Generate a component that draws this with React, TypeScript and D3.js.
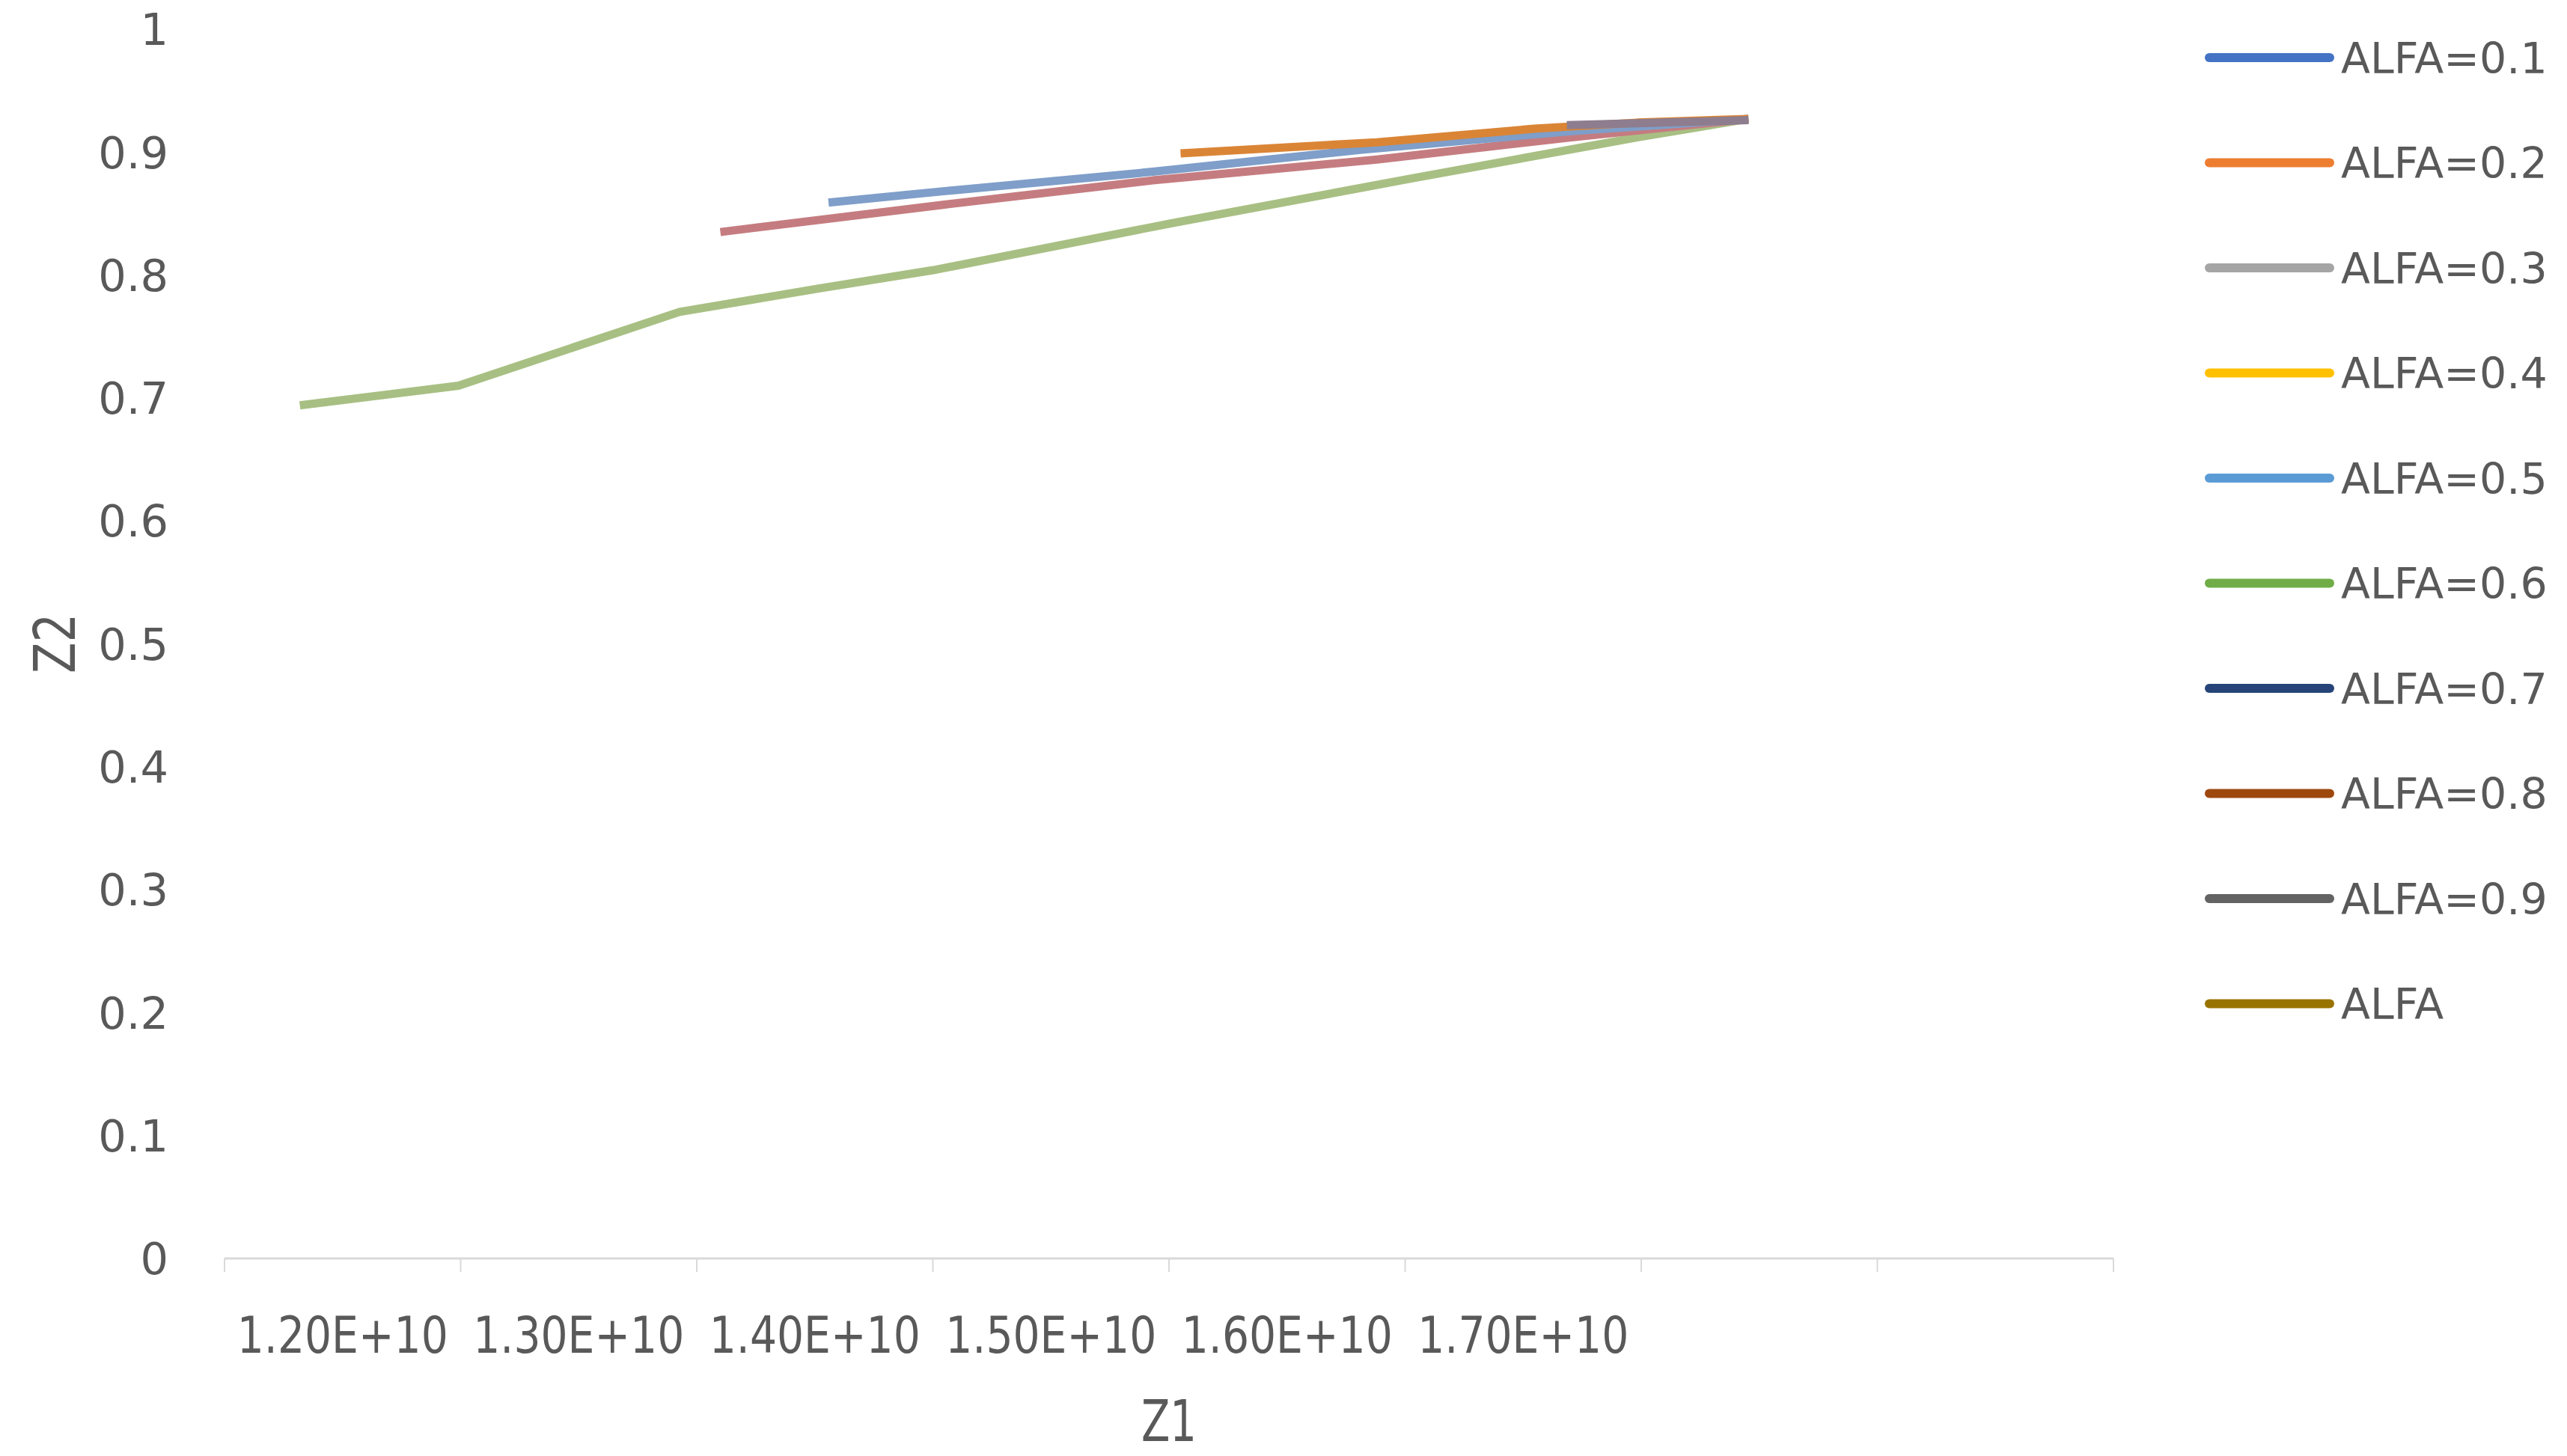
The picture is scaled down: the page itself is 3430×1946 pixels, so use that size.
import * as d3 from "d3";

// legend entries, Excel default palette
const seriesNames = [
  "ALFA=0.1", "ALFA=0.2", "ALFA=0.3", "ALFA=0.4", "ALFA=0.5",
  "ALFA=0.6", "ALFA=0.7", "ALFA=0.8", "ALFA=0.9", "ALFA",
];
const legendColors = [
  "#4472C4", "#ED7D31", "#A5A5A5", "#FFC000", "#5B9BD5",
  "#70AD47", "#264478", "#9E480E", "#636363", "#997300",
];
// colours the (overlapping, semi-transparent) lines show in the plot
const plotColors = [
  "#7f9ec9", "#da8536", "#c57c80", "#e0c060", "#7f9ec9",
  "#a8bf83", "#8e7d8e", "#b07050", "#8a8a8a", "#b09040",
];

// [Z1, Z2] points
const alfa01: [number, number][] = [
  [14.058e9, 0.859], [14.536e9, 0.868], [15.431e9, 0.884],
  [16.318e9, 0.902], [17.205e9, 0.917], [17.954e9, 0.927],
];
const alfa02: [number, number][] = [
  [15.549e9, 0.899], [16.38e9, 0.908], [17.046e9, 0.919],
  [17.483e9, 0.924], [17.954e9, 0.927],
];
const alfa03: [number, number][] = [
  [13.6e9, 0.835], [14.536e9, 0.857], [15.431e9, 0.877],
  [16.38e9, 0.894], [17.205e9, 0.912], [17.954e9, 0.927],
];
const alfa04: [number, number][] = [];
const alfa05: [number, number][] = [];
const alfa06: [number, number][] = [
  [11.819e9, 0.694], [12.491e9, 0.71], [13.427e9, 0.77],
  [14.016e9, 0.789], [14.502e9, 0.804], [15.507e9, 0.842],
  [16.512e9, 0.878], [17.483e9, 0.912], [17.954e9, 0.927],
];
const alfa07: [number, number][] = [[17.185e9, 0.922], [17.954e9, 0.926]];
const alfa08: [number, number][] = [];
const alfa09: [number, number][] = [];
const alfa: [number, number][] = [];

const seriesData = [alfa01, alfa02, alfa03, alfa04, alfa05, alfa06, alfa07, alfa08, alfa09, alfa];
const drawOrder = [5, 2, 0, 4, 3, 7, 8, 9, 1, 6];

const xTicks = [11.5e9, 12.5e9, 13.5e9, 14.5e9, 15.5e9, 16.5e9, 17.5e9, 18.5e9, 19.5e9];
const xLabels = [12e9, 13e9, 14e9, 15e9, 16e9, 17e9];
const yTicks = [0, 0.1, 0.2, 0.3, 0.4, 0.5, 0.6, 0.7, 0.8, 0.9, 1];

const width = 3430;
const height = 1946;
const font = "'DejaVu Sans', Verdana, sans-serif";
const textColor = "#595959";

export default function App() {
  const x = d3.scaleLinear().domain([11.5e9, 19.5e9]).range([300, 2824]);
  const y = d3.scaleLinear().domain([0, 1]).range([1682, 39]);
  const line = d3
    .line<[number, number]>()
    .x((d) => x(d[0]))
    .y((d) => y(d[1]));

  const fmtX = (v: number) => (v / 1e10).toFixed(2) + "E+10";
  const fmtY = d3.format("~g");

  return (
    <svg
      width={width}
      height={height}
      style={{ position: "absolute", left: 0, top: 0, background: "#fff" }}
      fontFamily={font}
    >
      {/* y tick labels */}
      {yTicks.map((t) => (
        <text key={t} x={225} y={y(t)} dy="0.36em" textAnchor="end" fontSize={59} fill={textColor}>
          {fmtY(t)}
        </text>
      ))}

      {/* x axis */}
      <line x1={x.range()[0]} x2={x.range()[1]} y1={y(0)} y2={y(0)} stroke="#d9d9d9" strokeWidth={3} />
      {xTicks.map((t) => (
        <line key={t} x1={x(t)} x2={x(t)} y1={y(0)} y2={y(0) + 18} stroke="#d9d9d9" strokeWidth={2} />
      ))}
      {xLabels.map((t) => (
        <text
          key={t}
          x={x(t)}
          y={1808}
          textAnchor="middle"
          fontSize={68}
          fill={textColor}
          textLength={282}
          lengthAdjust="spacingAndGlyphs"
        >
          {fmtX(t)}
        </text>
      ))}

      {/* axis titles */}
      <text x={1562} y={1926} textAnchor="middle" fontSize={76} fill={textColor} textLength={74} lengthAdjust="spacingAndGlyphs">
        Z1
      </text>
      <text
        transform="translate(100,860) rotate(-90)"
        textAnchor="middle"
        fontSize={76}
        fill={textColor}
        textLength={80}
        lengthAdjust="spacingAndGlyphs"
      >
        Z2
      </text>

      {/* series lines */}
      {drawOrder.map((i) =>
        seriesData[i].length > 1 ? (
          <path
            key={seriesNames[i]}
            d={line(seriesData[i]) ?? ""}
            fill="none"
            stroke={plotColors[i]}
            strokeWidth={11}
            strokeLinejoin="round"
          />
        ) : null
      )}

      {/* legend */}
      {seriesNames.map((name, i) => {
        const cy = 77 + i * 140.5;
        return (
          <g key={name}>
            <line x1={2952} x2={3113} y1={cy} y2={cy} stroke={legendColors[i]} strokeWidth={12} strokeLinecap="round" />
            <text x={3128} y={cy} dy="0.36em" fontSize={57} fill={textColor}>
              {name}
            </text>
          </g>
        );
      })}
    </svg>
  );
}
